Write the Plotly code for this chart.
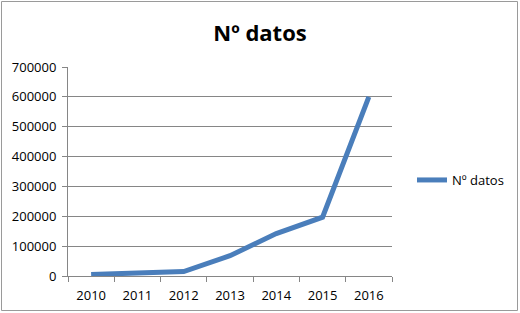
import plotly.graph_objects as go

years = ["2010", "2011", "2012", "2013", "2014", "2015", "2016"]
values = [5000, 12000, 15000, 68000, 142000, 197000, 600000]
series_name = "Nº datos"

L, R, T, B = 68, 128, 67, 37
W, H = 520, 313
pw, ph = W - L - R, H - T - B

def px_x(p):
    return (p - L) / pw

def px_y(p):
    return (H - B - p) / ph

fig = go.Figure()
fig.add_trace(go.Scatter(
    x=years, y=values, mode="lines", name=series_name,
    line=dict(color="#4A7EBB", width=5),
))

fig.update_layout(
    width=W, height=H,
    margin=dict(l=L, r=R, t=T, b=B, autoexpand=False),
    paper_bgcolor="white", plot_bgcolor="white",
    font=dict(family="Open Sans, Liberation Sans, sans-serif", size=13, color="#000000"),
    title=dict(text="<b>Nº datos</b>", x=0.5, xref="container", xanchor="center",
               y=(H - 33) / H, yref="container", yanchor="middle",
               font=dict(size=22, color="#000000")),
    showlegend=True,
    legend=dict(x=px_x(412), y=px_y(180), xanchor="left", yanchor="middle",
                font=dict(size=13), itemwidth=30, bgcolor="rgba(0,0,0,0)"),
    xaxis=dict(
        type="category", range=[-0.5, 6.5], tickson="boundaries",
        ticks="outside", ticklen=5, tickcolor="#868686",
        showline=True, linecolor="#868686", linewidth=1,
        showgrid=False, tickfont=dict(size=13), fixedrange=True,
        ticklabelstandoff=7, automargin=False,
    ),
    yaxis=dict(
        range=[0, 700000], dtick=100000, tickformat="d",
        ticks="outside", ticklen=5, tickcolor="#868686",
        showline=True, linecolor="#868686", linewidth=1,
        showgrid=True, gridcolor="#868686", gridwidth=1,
        zeroline=False, tickfont=dict(size=13), fixedrange=True,
        ticklabelstandoff=3, automargin=False,
    ),
    shapes=[dict(type="rect", xref="paper", yref="paper",
                 x0=px_x(1.5), x1=px_x(517.5), y0=px_y(310.5), y1=px_y(1.5),
                 line=dict(color="#9a9a9a", width=1), layer="below")],
)

fig.write_html("out.html")
